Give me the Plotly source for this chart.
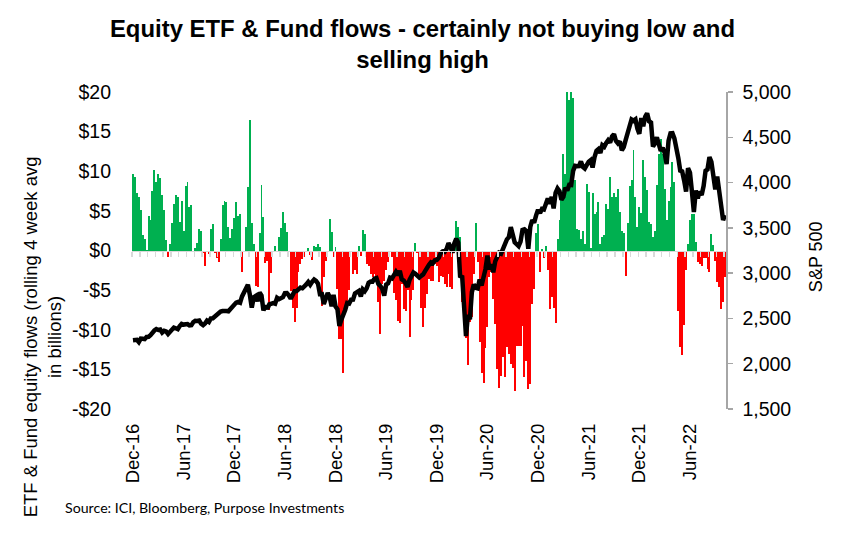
import pandas as pd
import plotly.graph_objects as go

first_week = "2016-12-09"

flows = [
 9.7, 9.3, 7.3, 6.8, 5.1, 1.9, 1.4, 0.1, 4.3, 3.9, 7.5, 10.2, 8.7, 9.7, 9.2, 7.0, 5.1, 1.3, -0.8, 0.8,
 3.5, 5.9, 7.0, 6.8, 3.6, 6.3, 2.5, 8.2, 8.6, 5.5, 5.8, -0.1, 0.3, 1.0, 2.7, 2.5, -0.3, -2.0, 0.0, -0.5,
 2.7, 3.4, -0.3, -0.9, -1.5, 1.4, 5.7, 6.2, 6.1, 3.0, 1.6, 2.7, 4.1, 6.1, 4.4, 4.6, -2.7, -0.2, 3.0, 8.0,
 16.5, 3.5, 0.8, -4.5, -4.6, 2.2, 8.3, 4.2, -1.6, -1.3, -7.5, -2.9, -0.1, 0.6, -0.1, 1.7, 2.9, 4.9, 3.5, 2.3,
 0.0, -5.1, -7.3, -9.0, -7.3, -2.7, -1.7, -1.1, -0.8, -0.2, 0.3, -0.6, -1.2, 0.6, 0.5, 0.8, 0.5, -7.0, -3.4, -1.3,
 -0.2, 4.0, 2.3, -0.8, 0.5, -4.9, -11.2, -11.2, -15.4, -7.2, -6.5, -5.0, -0.2, -3.0, -2.5, -3.0, 0.6, -0.7, 2.6, 2.1,
 -1.7, -1.9, -3.0, -3.4, -3.0, -3.2, -6.5, -10.5, -4.2, -3.8, -2.5, -1.5, 0.0, -0.8, -5.3, -6.3, -8.9, -9.2, -4.2, -7.4,
 -7.6, -5.0, -10.9, -6.3, -5.0, 1.0, -0.3, -3.0, -7.3, -9.7, -7.2, -5.5, -3.6, -3.8, -3.8, -1.7, -2.0, -4.0, -3.2, -3.4,
 -4.2, -4.6, -3.0, -4.6, -4.9, -0.3, 3.7, 3.0, 1.7, -6.5, -8.4, -11.0, -14.5, -9.0, -8.4, -3.0, 3.5, -1.5, -11.6, -15.5,
 -16.7, -12.3, -9.6, -3.4, -2.7, -6.1, -9.3, -15.0, -17.3, -15.8, -13.4, -16.0, -12.2, -13.0, -14.3, -14.8, -17.7, -12.0, -12.0, -12.0,
 -9.5, -16.0, -14.0, -17.5, -16.9, -6.8, -4.9, 2.2, 3.3, -2.7, 0.2, -1.0, 0.6, -2.5, -7.4, -5.9, -7.2, -9.2, 1.4, 3.8,
 6.8, 12.2, 9.7, 20.0, 19.0, 20.0, 19.3, 8.9, 2.7, 2.6, 1.5, 2.5, 0.8, 8.4, 7.4, 0.3, 7.3, 4.6, 4.9, 6.1,
 0.8, 1.7, 2.0, 5.9, 5.2, 9.3, 6.8, 7.2, 6.8, 7.7, 4.9, 2.5, 2.2, -3.2, 3.5, 8.2, 8.9, 12.7, 6.8, 3.0,
 5.5, 4.7, 11.4, 9.3, 7.6, 3.6, 3.4, 1.7, 2.5, 8.3, 12.2, 14.1, 12.2, 7.8, 3.8, 6.3, 8.0, 11.2, 8.6, -0.2,
 -7.6, -12.2, -13.2, -9.4, -2.4, 0.8, 3.9, 4.6, 4.6, 1.1, -1.4, -1.7, -2.0, -0.9, -1.0, -2.3, -2.7, 2.1, 0.7, -1.3,
 -4.0, -4.6, -7.4, -6.5, -3.4,
]

sp500 = [
 2259, 2258, 2264, 2239,
 2277, 2275, 2271, 2295, 2297, 2316, 2351, 2367, 2383, 2373, 2378, 2344, 2363, 2356, 2329, 2349, 2384, 2399, 2391, 2382, 2416, 2439, 2432, 2433, 2438, 2423,
 2425, 2459, 2473, 2472, 2477, 2441, 2426, 2444, 2476, 2461, 2500, 2502, 2519, 2549, 2553, 2575, 2581, 2588, 2582, 2579, 2602, 2642, 2652, 2675, 2683, 2674,
 2743, 2786, 2810, 2873, 2762, 2620, 2732, 2747, 2691, 2786, 2752, 2588, 2641, 2605, 2656, 2670, 2670, 2663, 2728, 2713, 2721, 2735, 2779, 2780, 2755, 2718,
 2760, 2801, 2802, 2819, 2840, 2833, 2850, 2875, 2902, 2872, 2905, 2930, 2914, 2885, 2767, 2768, 2659, 2723, 2781, 2736, 2633, 2760, 2633, 2600, 2417, 2486,
 2532, 2596, 2671, 2665, 2707, 2708, 2776, 2793, 2804, 2743, 2822, 2801, 2834, 2893, 2907, 2905, 2940, 2946, 2881, 2860, 2826, 2752, 2873, 2887, 2950, 2942,
 2990, 3014, 2977, 3026, 2932, 2919, 2889, 2847, 2926, 2979, 3007, 2992, 2962, 2952, 2970, 2986, 3023, 3067, 3093, 3120, 3110, 3141, 3146, 3169, 3221, 3240,
 3235, 3265, 3330, 3295, 3226, 3328, 3380, 3338, 2954, 2972, 2711, 2305, 2541, 2489, 2790, 2875, 2837, 2831, 2930, 2864, 2955, 3044, 3194, 3041, 3098, 3009,
 3130, 3185, 3225, 3215, 3271, 3351, 3373, 3397, 3508, 3427, 3341, 3319, 3298, 3348, 3477, 3484, 3465, 3270, 3510, 3585, 3558, 3638, 3699, 3663, 3709, 3703, 3756,
 3825, 3768, 3841, 3714, 3887, 3935, 3906, 3811, 3842, 3943, 3913, 3975, 3973, 4129, 4185, 4180, 4181, 4233, 4174, 4156, 4204, 4230, 4247, 4166, 4281,
 4352, 4370, 4327, 4412, 4395, 4437, 4468, 4442, 4509, 4535, 4459, 4433, 4455, 4357, 4391, 4471, 4545, 4605, 4697, 4683, 4698, 4595, 4538, 4712, 4621, 4726, 4766,
 4677, 4663, 4398, 4432, 4500, 4419, 4349, 4385, 4329, 4204, 4463, 4543, 4545, 4488, 4393, 4272, 4132, 4123, 4024, 3901, 4158, 4109, 3901, 3675, 3912,
 3825, 3899, 3863, 3961, 4130, 4145, 4280, 4228, 4058, 3924, 4067, 3873, 3693, 3586, 3640,
]

flow_ticks = [20, 15, 10, 5, 0, -5, -10, -15, -20]
flow_tick_text = ["$20", "$15", "$10", "$5", "$0", "-$5", "-$10", "-$15", "-$20"]

weeks = pd.date_range(first_week, periods=len(flows), freq="7D")
half_week = pd.Timedelta(days=3.5)
x_range = [weeks[0] - half_week, weeks[-1] + half_week]
bar_colors = ["#00B050" if v >= 0 else "#FF0000" for v in flows]
FONT = "Liberation Sans, Arial, sans-serif"

fig = go.Figure()
fig.add_bar(x=weeks, y=flows, marker=dict(color=bar_colors, line_width=0), xaxis="x", yaxis="y",
            name="Equity ETF & fund flows")
fig.add_scatter(x=weeks, y=sp500, mode="lines", xaxis="x2", yaxis="y2", name="S&P 500",
                line=dict(color="#000000", width=4.5))

fig.update_layout(
    width=845, height=552, autosize=False,
    margin=dict(l=132, r=119, t=92, b=143, pad=0),
    paper_bgcolor="white", plot_bgcolor="white",
    showlegend=False, bargap=0,
    font=dict(family=FONT, color="#000000", size=18),
    title=dict(text="<b>Equity ETF & Fund flows - certainly not buying low and<br>selling high</b>",
               x=0.5, xanchor="center", y=0.933, yanchor="top",
               font=dict(family=FONT, size=23.9, color="#000000")),
    xaxis=dict(type="date", range=x_range, anchor="free", position=0.5,
               showgrid=False, zeroline=False, showticklabels=False,
               showline=True, linecolor="#d9d9d9", linewidth=1.5,
               ticks="outside", ticklen=5, tickcolor="#d9d9d9", tickwidth=1.5,
               tickmode="array", tickvals=list(weeks[::4] - half_week)),
    yaxis=dict(range=[-20, 20], tickmode="array", tickvals=flow_ticks, ticktext=flow_tick_text,
               showgrid=False, zeroline=False, showline=False, ticks="",
               ticklabelstandoff=20, tickfont=dict(size=19.5)),
    xaxis2=dict(type="date", range=x_range, overlaying="x", anchor="y2", side="bottom",
                showgrid=False, zeroline=False, showline=False, ticks="",
                tickmode="array", tickvals=list(weeks[::26]),
                ticktext=[d.strftime("%b-%y") for d in weeks[::26]],
                tickangle=-90, ticklabelstandoff=10, tickfont=dict(size=18.5)),
    yaxis2=dict(range=[1500, 5000], dtick=500, tick0=1500, overlaying="y", anchor="x2", side="right",
                showgrid=False, zeroline=False, showline=True, linecolor="#a6a6a6", linewidth=1.5,
                ticks="outside", ticklen=5, tickcolor="#a6a6a6", tickwidth=1.5,
                tickformat=",", ticklabelstandoff=6, tickfont=dict(size=19.5)),
    annotations=[
        dict(text="ETF & Fund equity flows (rolling 4 week avg<br>in billions)", textangle=-90,
             xref="paper", yref="paper", x=-0.1515, y=0.226, xanchor="center", yanchor="middle",
             showarrow=False, font=dict(size=18.5)),
        dict(text="S&P 500", textangle=-90, xref="paper", yref="paper", x=1.152, y=0.48,
             xanchor="center", yanchor="middle", showarrow=False, font=dict(size=18)),
        dict(text="Source: ICI, Bloomberg, Purpose Investments", xref="paper", yref="paper",
             x=-0.116, y=-0.31, xanchor="left", yanchor="middle", showarrow=False,
             font=dict(family="Lato", size=14.2)),
    ],
)

fig.write_html("out.html", config={"staticPlot": True},
               post_script="document.body.style.margin='0';")
